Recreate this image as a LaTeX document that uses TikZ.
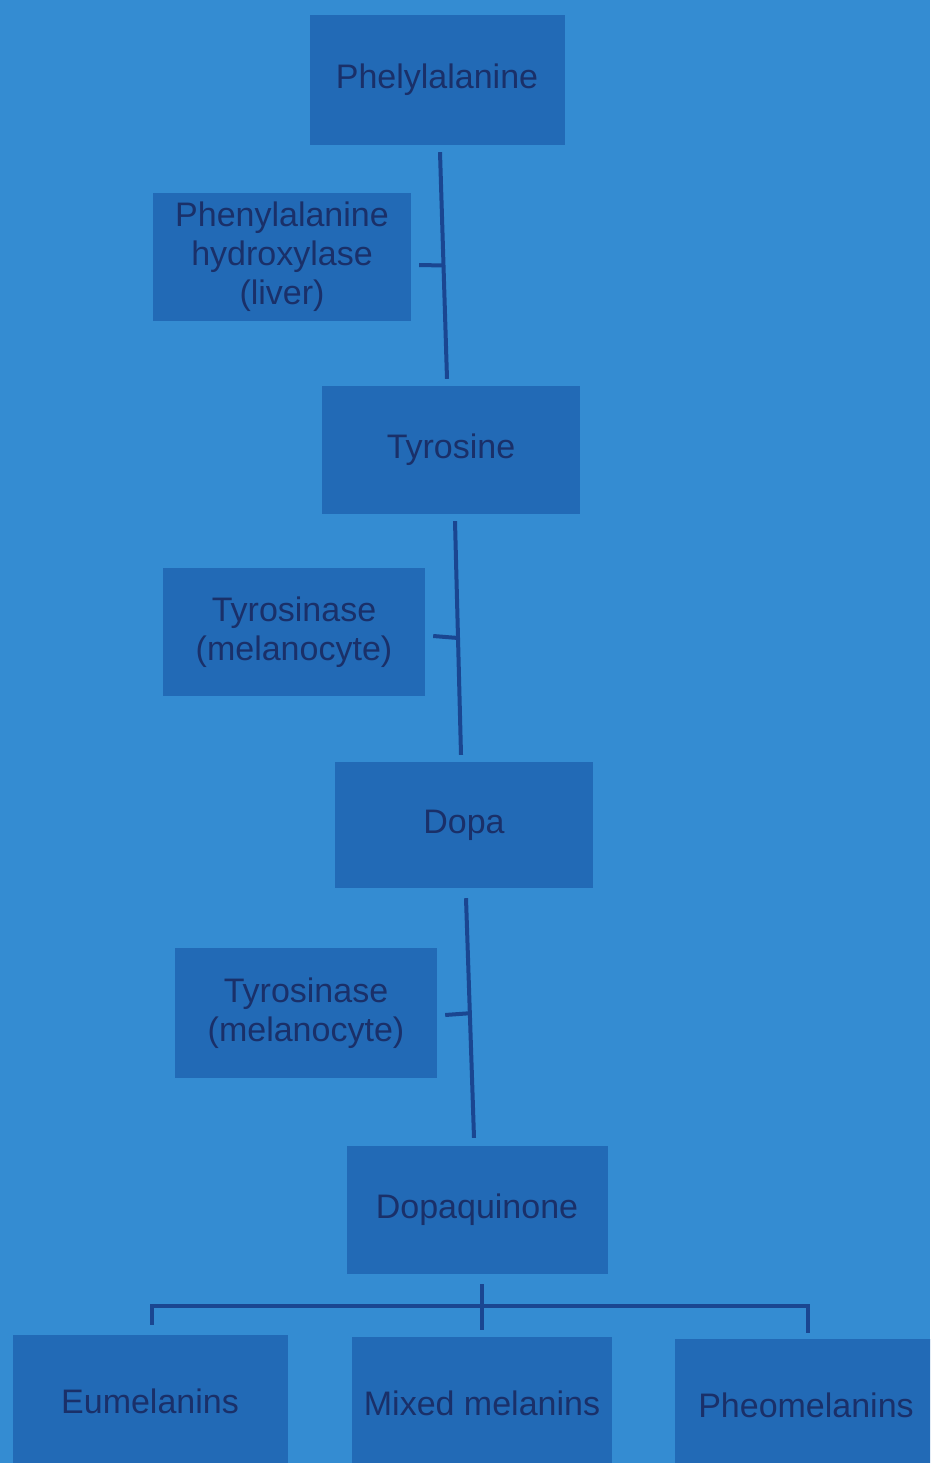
\documentclass[tikz,border=0pt]{standalone}
\usepackage{fontspec}
\setmainfont{Liberation Sans}
\usetikzlibrary{calc}
\definecolor{bg}{RGB}{52,140,210}
\definecolor{boxc}{RGB}{34,106,182}
\definecolor{txt}{RGB}{26,48,105}
\definecolor{lnc}{RGB}{26,70,145}
\begin{document}
\begin{tikzpicture}[x=1pt,y=-1pt,
  stepbox/.style={fill=boxc,draw=none,minimum width=258pt,minimum height=128pt,
    text=txt,align=center,inner sep=0pt,font=\fontsize{34}{39}\selectfont},
  conn/.style={draw=lnc,line width=4pt}]
\fill[bg] (0,0) rectangle (930,1463);
\useasboundingbox (0,0) rectangle (930,1463);
\begin{scope}
\clip (0,0) rectangle (930,1463);
\node[stepbox,minimum width=255pt,minimum height=130pt] (phe) at (437,80) {Phelylalanine};
\node[stepbox] (phh) at (282,257) {Phenylalanine\\hydroxylase\\(liver)};
\node[stepbox] (tyr) at (451,450) {Tyrosine};
\node[stepbox,minimum width=262pt] (ty1) at (294,632) {Tyrosinase\\(melanocyte)};
\node[stepbox,minimum height=126pt] (dopa) at (464,825) {Dopa};
\node[stepbox,minimum width=262pt,minimum height=130pt] (ty2) at (306,1013) {Tyrosinase\\(melanocyte)};
\node[stepbox,minimum width=261pt] (dq) at (477,1210) {Dopaquinone};
\node[stepbox,minimum width=275pt,minimum height=132pt] (eu) at (150,1401) {Eumelanins};
\node[stepbox,minimum width=260pt,minimum height=132pt] (mix) at (482,1403) {Mixed melanins};
\node[stepbox,minimum width=262pt,minimum height=132pt] (pheo) at (806,1405) {Pheomelanins};
\end{scope}
% vertical connectors
\coordinate (a1) at ($(phe.south)+(3,7)$);
\coordinate (a2) at ($(tyr.north)+(-4,-7)$);
\draw[conn] (a1) -- (a2);
\coordinate (k1) at ($(a1)!0.5!(a2)$);
\draw[conn] (k1) -- ($(phh.east)+(8,8)$);
\coordinate (b1) at ($(tyr.south)+(4,7)$);
\coordinate (b2) at ($(dopa.north)+(-3,-7)$);
\draw[conn] (b1) -- (b2);
\coordinate (k2) at ($(b1)!0.5!(b2)$);
\draw[conn] (k2) -- ($(ty1.east)+(8,4)$);
\coordinate (c1) at ($(dopa.south)+(2,10)$);
\coordinate (c2) at ($(dq.north)+(-3,-8)$);
\draw[conn] (c1) -- (c2);
\coordinate (k3) at ($(c1)!0.48!(c2)$);
\draw[conn] (k3) -- ($(ty2.east)+(8,2)$);
% bottom bracket
\coordinate (d0) at ($(dq.south)+(5,10)$);
\coordinate (dl) at (152,1306);
\coordinate (dr) at (808,1306);
\draw[conn] (d0) -- (482,1330);
\draw[conn] ($(eu.north)+(2,-10)$) -- (dl) -- (dr) -- ($(pheo.north)+(2,-6)$);
\end{tikzpicture}
\end{document}
